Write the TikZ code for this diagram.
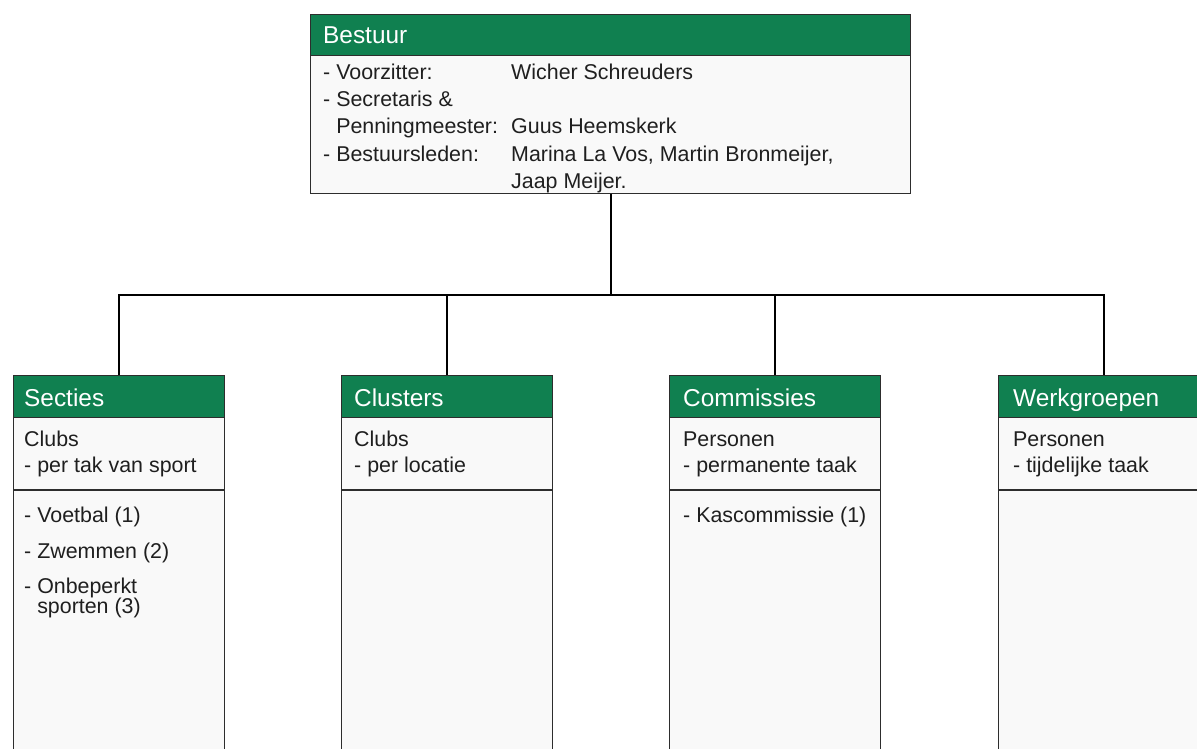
\documentclass[tikz,border=0pt]{standalone}
\usepackage{fontspec}
\setmainfont{Liberation Sans}
\usetikzlibrary{calc}
\definecolor{kopgroen}{RGB}{16,128,80}
\definecolor{vakgrijs}{RGB}{249,249,249}
\definecolor{rand}{RGB}{45,45,45}
\newcommand{\tekst}{\fontsize{21.4}{27}\selectfont}
\newcommand{\koptekst}{\fontsize{24.4}{27}\selectfont}

\begin{document}
\begin{tikzpicture}[x=1pt, y=-1pt,
  vak/.style={draw=rand, line width=1.2pt, fill=vakgrijs, anchor=north west, inner sep=0},
  kop/.style={draw=rand, line width=1.2pt, fill=kopgroen, text=white, anchor=north west,
    minimum height=42, inner sep=0, text height=20, text depth=0, font=\koptekst},
  regel/.style={anchor=base west, inner sep=0, font=\tekst, text=black!88},
  lijn/.style={draw=black, line width=1.8pt}]
\useasboundingbox (0,0) rectangle (1197,749);
\clip (0,0) rectangle (1197,749);

% bestuur
\node[vak, minimum width=600, minimum height=179] (bestuur-vak) at (310,14) {};
\node[kop, minimum height=41, minimum width=600] (bestuur) at (310,14) {};
\node[regel, font=\koptekst, text=white] (bestuur-titel) at (323,44) {Bestuur};
\foreach \y/\links/\rechts [count=\i] in {80/- Voorzitter:/Wicher Schreuders,
    107/- Secretaris \&/, 134/\phantom{- }Penningmeester:/Guus Heemskerk,
    161/- Bestuursleden:/{Marina La Vos, Martin Bronmeijer,}, 188//Jaap Meijer.} {
  \node[regel] (rol\i) at (323,\y) {\links};
  \node[regel] (naam\i) at (511,\y) {\rechts};
}
\coordinate (knoop) at (bestuur-vak.south |- 0,295);
\draw[lijn] (bestuur-vak.south) -- (knoop);

% onderdelen
\foreach \x/\t/\naam/\titel/\soort/\aard in {13/24/secties/Secties/Clubs/per tak van sport,
    341/354/clusters/Clusters/Clubs/per locatie,
    669/683/commissies/Commissies/Personen/permanente taak,
    998/1013/werkgroepen/Werkgroepen/Personen/tijdelijke taak} {
  \node[vak, minimum width=211, minimum height=400] (\naam-vak) at (\x,375) {};
  \node[kop, minimum width=211] (\naam) at (\x,375) {};
  \node[regel, font=\koptekst, text=white] (\naam-titel) at (\t,406) {\titel};
  \draw[rand, line width=1.2pt] (\x,490) -- ++(211,0);
  \node[regel] (\naam-soort) at (\t,446) {\soort};
  \node[regel] (\naam-aard) at (\t,472) {- \aard};
  \draw[lijn] (knoop) -| (\naam-vak.north);
}

% leden
\node[regel] (voetbal) at (24,522) {- Voetbal (1)};
\node[regel] (zwemmen) at (24,558) {- Zwemmen (2)};
\node[regel] (onbeperkt) at (24,593) {- Onbeperkt};
\node[regel] (sporten) at (24,613) {\phantom{- }sporten (3)};
\node[regel] (kascommissie) at (683,522) {- Kascommissie (1)};
\end{tikzpicture}
\end{document}
